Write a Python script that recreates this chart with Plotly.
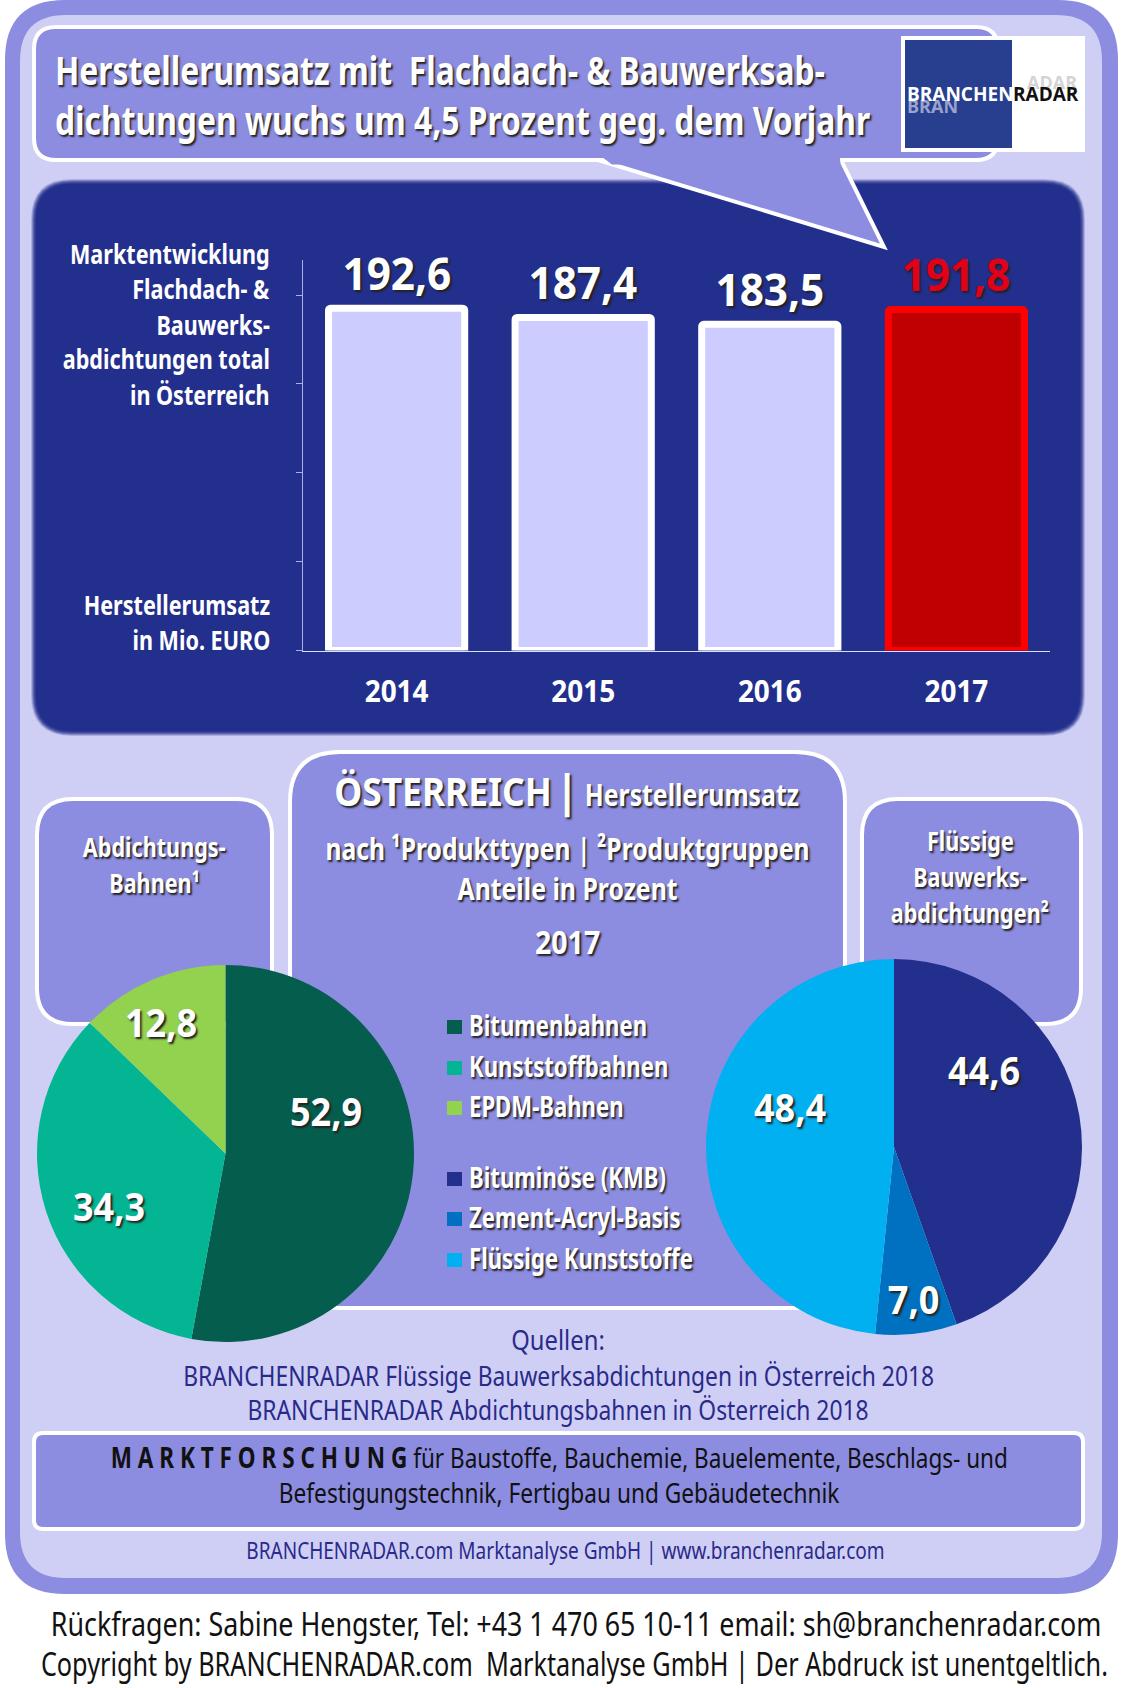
import json

import plotly.graph_objects as go

W = 1122
H = 1688

years = ["2014", "2015", "2016", "2017"]
umsatz = [192.6, 187.4, 183.5, 191.8]
bar_fill = ["#ccccff", "#ccccff", "#ccccff", "#c00000"]
bar_line = ["#ffffff", "#ffffff", "#ffffff", "#ff0000"]
label_colors = ["#ffffff", "#ffffff", "#ffffff", "#e0001a"]
y_ticks = [0, 50, 100, 150, 200]

bahnen_labels = ["Bitumenbahnen", "Kunststoffbahnen", "EPDM-Bahnen"]
bahnen_values = [52.9, 34.3, 12.8]
bahnen_colors = ["#055d4d", "#03b592", "#92d24f"]

fluessig_labels = ["Bituminöse (KMB)", "Zement-Acryl-Basis", "Flüssige Kunststoffe"]
fluessig_values = [44.6, 7.0, 48.4]
fluessig_colors = ["#232f8c", "#0070c0", "#00b0f0"]

FRAME = "#8c8ce0"
INNER = "#cfcff5"
NAVY = "#232f8c"
TEXT_BLUE = "#2a2a8a"
AXIS = "#aab0e0"
FONT = "Noto Sans, sans-serif"
LOGO_FONT = "Open Sans, sans-serif"
SHADOW = "2px 2px 2px #222222"


def px(x):
    return x / W


def py(y):
    return 1 - y / H


def rounded(x0, y0, x1, y1, r):
    # path in paper coordinates, corners are quadratic curves
    pts = [
        f"M {px(x0 + r)} {py(y0)}", f"L {px(x1 - r)} {py(y0)}",
        f"Q {px(x1)} {py(y0)} {px(x1)} {py(y0 + r)}", f"L {px(x1)} {py(y1 - r)}",
        f"Q {px(x1)} {py(y1)} {px(x1 - r)} {py(y1)}", f"L {px(x0 + r)} {py(y1)}",
        f"Q {px(x0)} {py(y1)} {px(x0)} {py(y1 - r)}", f"L {px(x0)} {py(y0 + r)}",
        f"Q {px(x0)} {py(y0)} {px(x0 + r)} {py(y0)}", "Z",
    ]
    return " ".join(pts)


shapes = []


def box(x0, y0, x1, y1, r, fill, line=None, lw=0, opacity=1):
    shapes.append(dict(type="path", path=rounded(x0, y0, x1, y1, r), xref="paper", yref="paper",
                       fillcolor=fill, opacity=opacity, layer="below",
                       line=dict(color=line or fill, width=lw)))


def rect(x0, y0, x1, y1, fill):
    shapes.append(dict(type="rect", x0=px(x0), x1=px(x1), y0=py(y0), y1=py(y1), xref="paper", yref="paper",
                       fillcolor=fill, line=dict(width=0), layer="below"))


annotations = []
squeeze = []  # horizontal squeeze of each annotation, the reference lettering is condensed


def label(x, y, text, size, color="#ffffff", anchor="center", bold=True, shadow=None, family=FONT, f=0.8):
    annotations.append(dict(x=px(x), y=py(y), xref="paper", yref="paper", text=text, showarrow=False,
                            xanchor=anchor, yanchor="middle",
                            font=dict(size=size, color=color, family=family,
                                      weight="bold" if bold else "normal",
                                      shadow=shadow if shadow else "none")))
    squeeze.append(f)


def comma(v):
    return f"{v:.1f}".replace(".", ",")


# frame
box(5, 0, 1118, 1594, 60, FRAME)
box(20, 15, 1102, 1578, 46, INNER)

# dark panel behind the bars, soft edge
for grow, alpha in [(3, 0.2), (2, 0.3), (1, 0.4), (0, 0.5), (-1, 0.6), (-2, 1)]:
    box(34 - grow, 182 - grow, 1082 + grow, 733 + grow, 38 + grow, NAVY, opacity=alpha)

# speech bubble with tail
box(34, 27, 998, 160, 22, FRAME, "#ffffff", 4)
shapes.append(dict(type="path", xref="paper", yref="paper", layer="below", fillcolor=FRAME,
                   line=dict(color="#ffffff", width=4),
                   path=f"M {px(598)} {py(160)} L {px(884)} {py(247)} L {px(841)} {py(160)} Z"))
shapes.append(dict(type="path", xref="paper", yref="paper", layer="below", fillcolor=FRAME,
                   line=dict(color=FRAME, width=1),
                   path=f"M {px(600)} {py(155)} L {px(839)} {py(155)} L {px(840)} {py(164)} L {px(612)} {py(164)} Z"))

# logo
rect(901, 36, 1085, 152, "#ffffff")
rect(905, 40, 1012, 148, "#273f8e")

# centre and side boxes
box(37, 799, 272, 1024, 36, FRAME, "#ffffff", 4)
box(862, 799, 1081, 1024, 36, FRAME, "#ffffff", 4)
box(290, 752, 845, 1308, 50, FRAME, "#ffffff", 4)

# box at the bottom
box(34, 1433, 1083, 1529, 9, FRAME, "#ffffff", 4)

# legend swatches
legend_rows = [1027, 1068, 1108, 1179, 1219, 1260]
for row_y, color in zip(legend_rows, bahnen_colors + fluessig_colors):
    rect(447, row_y - 7, 462, row_y + 7, color)

# headline
label(53, 70, "Herstellerumsatz mit  Flachdach- &amp; Bauwerksab-", 40, anchor="left", shadow=SHADOW, f=0.795)
label(53, 119, "dichtungen wuchs um 4,5 Prozent geg. dem Vorjahr", 40, anchor="left", shadow=SHADOW, f=0.795)

# logo text
label(905, 106, "BRAN", 18, "#9aa3cf", anchor="left", family=LOGO_FONT, f=1)
label(905, 94, "BRANCHEN", 19, "#ffffff", anchor="left", family=LOGO_FONT, f=1)
label(1079, 82, "ADAR", 18, "#d4d4d4", anchor="right", family=LOGO_FONT, f=1)
label(1011, 94, "RADAR", 19, "#111111", anchor="left", family=LOGO_FONT, f=1)

# text left of the bars
side_lines = ["Marktentwicklung", "Flachdach- &amp;", "Bauwerks-", "abdichtungen total", "in Österreich"]
for line_y, line in zip([254, 288, 324, 359, 394], side_lines):
    label(272, line_y, line, 27, anchor="right")
label(272, 604, "Herstellerumsatz", 27, anchor="right")
label(272, 639, "in Mio. EURO", 27, anchor="right")

# centre box
label(443, 790, "ÖSTERREICH", 40, shadow=SHADOW, f=0.885)
label(567, 790, "|", 44, shadow=SHADOW, f=1)
label(692, 794, "Herstellerumsatz", 31, shadow=SHADOW)
label(567, 848, "nach ¹Produkttypen | ²Produktgruppen", 31, shadow=SHADOW, f=0.795)
label(567, 888, "Anteile in Prozent", 31, shadow=SHADOW)
label(567, 941, "2017", 32, shadow=SHADOW, f=0.89)

# side boxes
label(154, 847, "Abdichtungs-", 27, shadow=SHADOW)
label(154, 882, "Bahnen¹", 27, shadow=SHADOW)
label(970, 841, "Flüssige", 27, shadow=SHADOW)
label(970, 876, "Bauwerks-", 27, shadow=SHADOW)
label(970, 912, "abdichtungen²", 27, shadow=SHADOW)

# legend text
for row_y, name in zip(legend_rows, bahnen_labels + fluessig_labels):
    label(467, row_y - 2, name, 28, shadow=SHADOW, anchor="left", f=0.79)

# pie labels
pie_label_pos = [(326, 1110), (109, 1205), (161, 1021), (984, 1069), (913, 1298), (790, 1106)]
for (lx, ly), v in zip(pie_label_pos, bahnen_values + fluessig_values):
    label(lx, ly, comma(v), 40, shadow=SHADOW, f=0.9)

# sources
label(558, 1339, "Quellen:", 28, TEXT_BLUE, bold=False, f=0.85)
label(558, 1375, "BRANCHENRADAR Flüssige Bauwerksabdichtungen in Österreich 2018", 28, TEXT_BLUE, bold=False, f=0.815)
label(558, 1409, "BRANCHENRADAR Abdichtungsbahnen in Österreich 2018", 28, TEXT_BLUE, bold=False, f=0.815)

label(559, 1457, "<b>M A R K T F O R S C H U N G</b> für Baustoffe, Bauchemie, Bauelemente, Beschlags- und",
      28, "#111111", bold=False, f=0.805)
label(559, 1492, "Befestigungstechnik, Fertigbau und Gebäudetechnik", 28, "#111111", bold=False, f=0.81)
label(565, 1549, "BRANCHENRADAR.com Marktanalyse GmbH | www.branchenradar.com", 24, TEXT_BLUE, bold=False, f=0.793)

label(576, 1623, "Rückfragen: Sabine Hengster, Tel: +43 1 470 65 10-11 email: sh@branchenradar.com", 33,
      "#111111", bold=False, f=0.813)
label(574, 1663, "Copyright by BRANCHENRADAR.com  Marktanalyse GmbH | Der Abdruck ist unentgeltlich.", 33,
      "#111111", bold=False, f=0.765)

# values above the bars
for i, (v, color) in enumerate(zip(umsatz, label_colors)):
    annotations.append(dict(x=i, y=v, xref="x", yref="y", text=comma(v), showarrow=False,
                            xanchor="center", yanchor="middle", yshift=36,
                            font=dict(size=45, family=FONT, color=color, weight="bold", shadow=SHADOW)))
    squeeze.append(0.94)

fig = go.Figure()

fig.add_trace(go.Bar(
    x=years, y=umsatz, marker=dict(color=bar_fill, line=dict(color=bar_line, width=7), cornerradius=2),
    hoverinfo="skip",
))

fig.add_trace(go.Pie(
    labels=bahnen_labels, values=bahnen_values, sort=False, direction="clockwise", rotation=0,
    marker=dict(colors=bahnen_colors, line=dict(width=0)), textinfo="none", hoverinfo="skip",
    domain=dict(x=[px(37), px(414)], y=[py(1342), py(965)]),
))
fig.add_trace(go.Pie(
    labels=fluessig_labels, values=fluessig_values, sort=False, direction="clockwise", rotation=0,
    marker=dict(colors=fluessig_colors, line=dict(width=0)), textinfo="none", hoverinfo="skip",
    domain=dict(x=[px(706), px(1082)], y=[py(1335), py(959)]),
))

fig.update_layout(
    width=W, height=H, autosize=False, margin=dict(l=0, r=0, t=0, b=0, pad=0),
    paper_bgcolor="#ffffff", plot_bgcolor="rgba(0,0,0,0)", showlegend=False,
    bargap=0.27, shapes=shapes, annotations=annotations,
    xaxis=dict(type="category", domain=[px(303.3), px(1049.7)], showline=True, linecolor="#dcdcff", linewidth=1,
               ticks="", tickfont=dict(size=31, family=FONT, color="#ffffff", weight="bold"),
               ticklabelstandoff=13, showgrid=False, zeroline=False, fixedrange=True),
    yaxis=dict(domain=[py(650.5), py(259.5)], range=[0, 220], tickvals=y_ticks, showticklabels=False,
               showline=True, linecolor=AXIS, linewidth=1, ticks="outside", ticklen=6,
               tickcolor=AXIS, showgrid=False, zeroline=False, fixedrange=True),
)

# narrow the lettering after drawing, no condensed font is installed
post_script = """
document.body.style.margin = '0';
document.body.style.overflow = 'hidden';
var gd = document.getElementById('{plot_id}');
var factors = %s;
function narrow(t, f) {
    var w = t.getComputedTextLength();
    t.setAttribute('textLength', w * f);
    t.setAttribute('lengthAdjust', 'spacingAndGlyphs');
    return w * (1 - f);
}
gd.querySelectorAll('g.annotation').forEach(function (g) {
    var i = +g.getAttribute('data-index');
    var t = g.querySelector('text');
    var bg = g.querySelector('rect.bg');
    var d = narrow(t, factors[i]);
    var side = gd.layout.annotations[i].xanchor;
    var x = +t.getAttribute('x');
    var rw = +bg.getAttribute('width');
    var rx = +bg.getAttribute('x');
    bg.setAttribute('width', rw - d);
    if (side === 'left') t.setAttribute('x', x - d / 2);
    if (side === 'right') { t.setAttribute('x', x + d / 2); bg.setAttribute('x', rx + d); }
    if (side === 'center') bg.setAttribute('x', rx + d / 2);
});
gd.querySelectorAll('.xtick text').forEach(function (t) { narrow(t, 0.9); });
""" % json.dumps(squeeze)

fig.write_html("out.html", post_script=post_script, config=dict(displayModeBar=False))
